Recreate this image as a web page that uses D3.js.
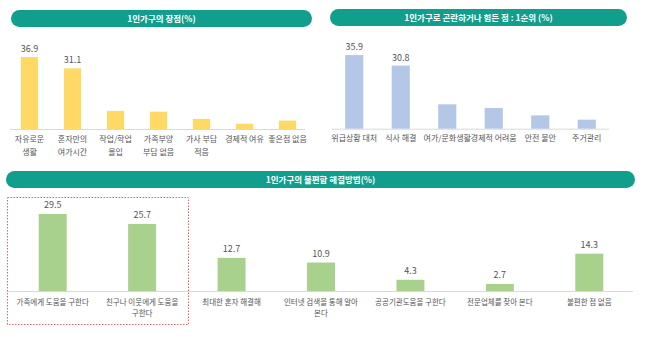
<!DOCTYPE html>
<html><head><meta charset="utf-8">
<script src="https://cdn.jsdelivr.net/npm/d3@7"></script>
<style>
html,body{margin:0;padding:0;background:#fff;}
svg{display:block;font-family:"Noto Sans CJK KR","Noto Sans",sans-serif;}
</style></head>
<body><svg id="c" width="647" height="341"></svg>
<script>
// Panel 1: 1인가구의 장점(%)
const advTitle = "1인가구의 장점(%)";
const advCategories = ["자유로운\n생활","혼자만의\n여가시간","작업/학업\n몰입","가족부양\n부담 없음","가사 부담\n적음","경제적 여유","좋은점 없음"];
const advValues = [36.9, 31.1, 9.3, 8.9, 5.2, 2.7, 4.3];
const advLabeled = 2;

// Panel 2: 1인가구로 곤란하거나 힘든 점 : 1순위 (%)
const hardTitle = "1인가구로 곤란하거나 힘든 점 : 1순위 (%)";
const hardCategories = ["위급상황 대처","식사 해결","여가/문화생활","경제적 어려움","안전 불안","주거관리"];
const hardValues = [35.9, 30.8, 11.9, 10.1, 6.5, 4.4];
const hardLabeled = 2;

// Panel 3: 1인가구의 불편함 해결방법(%)
const solTitle = "1인가구의 불편함 해결방법(%)";
const solCategories = ["가족에게 도움을 구한다","친구나 이웃에게 도움을\n구한다","최대한 혼자 해결해","인터넷 검색을 통해 알아\n본다","공공기관도움을 구한다","전문업체를 찾아 본다","불편한 점 없음"];
const solValues = [29.5, 25.7, 12.7, 10.9, 4.3, 2.7, 14.3];
const solLabeled = 7;

const svg = d3.select("#c");
const TEAL = "#119e8d";

function pill(x0, x1, y0, y1, text) {
  const h = y1 - y0;
  svg.append("rect").attr("x", x0).attr("y", y0).attr("width", x1 - x0).attr("height", h)
    .attr("rx", h / 2).attr("ry", h / 2).attr("fill", TEAL);
  svg.append("text").attr("x", (x0 + x1) / 2).attr("y", y0 + h / 2 + 3)
    .attr("text-anchor", "middle").attr("fill", "#fff").attr("font-size", 8.5)
    .attr("font-weight", 700).text(text);
}

function panel(cfg) {
  const x = d3.scaleBand().domain(cfg.cats).range(cfg.xr)
    .paddingInner(cfg.pi).paddingOuter(cfg.pi / 2);
  const y = d3.scaleLinear().domain([0, cfg.ymax]).range([cfg.base, cfg.base - cfg.ypx]);
  const g = svg.append("g");
  g.append("line").attr("x1", cfg.lx[0]).attr("x2", cfg.lx[1])
    .attr("y1", cfg.base + 0.5).attr("y2", cfg.base + 0.5)
    .attr("stroke", "#d9d9d9").attr("stroke-width", 1);
  g.selectAll("rect.bar").data(cfg.vals).enter().append("rect").attr("class", "bar")
    .attr("x", (d, i) => x(cfg.cats[i])).attr("width", x.bandwidth())
    .attr("y", d => y(d)).attr("height", d => cfg.base - y(d)).attr("fill", cfg.color);
  g.selectAll("text.val").data(cfg.vals.slice(0, cfg.labeled)).enter().append("text")
    .attr("class", "val").attr("x", (d, i) => x(cfg.cats[i]) + x.bandwidth() / 2)
    .attr("y", d => y(d) - cfg.vdy).attr("text-anchor", "middle")
    .attr("font-size", 9).attr("fill", "#555").text(d => d.toFixed(1));
  cfg.cats.forEach((c, i) => {
    const lines = c.split("\n");
    const t = g.append("text").attr("text-anchor", "middle").attr("font-size", cfg.cfs)
      .attr("fill", "#555");
    lines.forEach((ln, j) => {
      t.append("tspan").attr("x", x(c) + x.bandwidth() / 2)
        .attr("y", cfg.ly + j * cfg.lh).text(ln);
    });
  });
}

pill(11, 312, 10, 27, advTitle);
pill(330, 627, 9, 26, hardTitle);
pill(6, 635, 171, 188, solTitle);

panel({cats: advCategories, vals: advValues, labeled: advLabeled, color: "#ffd966",
  xr: [8, 309], pi: 0.6, base: 129, ymax: 40, ypx: 78, lx: [10, 305],
  vdy: 5, ly: 141.5, lh: 13.5, cfs: 8});
panel({cats: hardCategories, vals: hardValues, labeled: hardLabeled, color: "#b4c7e7",
  xr: [331, 610], pi: 0.61, base: 128.7, ymax: 40, ypx: 82, lx: [332, 609],
  vdy: 5, ly: 141, lh: 13.5, cfs: 8});
panel({cats: solCategories, vals: solValues, labeled: solLabeled, color: "#a9d18e",
  xr: [8, 634], pi: 0.687, base: 291, ymax: 30, ypx: 78.3, lx: [7, 633],
  vdy: 6, ly: 305, lh: 10.5, cfs: 7.5});

svg.append("rect").attr("x", 7.5).attr("y", 197.5).attr("width", 181).attr("height", 127)
  .attr("fill", "none").attr("stroke", "#e06666").attr("stroke-width", 1)
  .attr("stroke-dasharray", "1.5,1.5");
</script></body></html>
